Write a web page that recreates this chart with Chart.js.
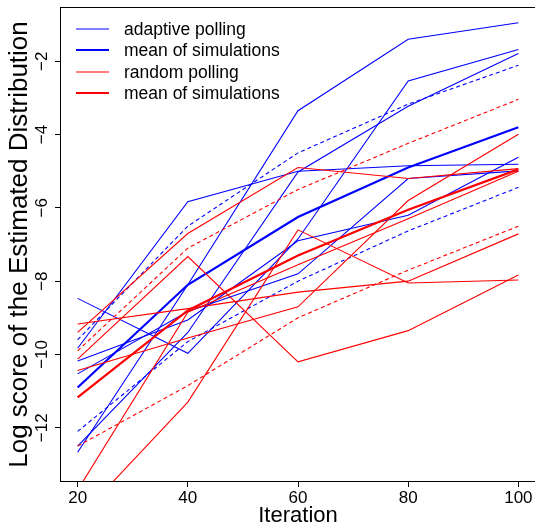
<!DOCTYPE html>
<html>
<head>
<meta charset="utf-8">
<script src="https://cdn.jsdelivr.net/npm/chart.js@4"></script>
<style>
html,body{margin:0;padding:0;background:#fff;overflow:hidden;}
#wrap{position:absolute;left:0;top:0;width:536px;height:525px;}
</style>
</head>
<body>
<div id="wrap"><canvas id="c"></canvas></div>
<script>
// ---- data ----
const iterations = [20, 40, 60, 80, 100];
const yTickValues = [-12, -10, -8, -6, -4, -2];

const adaptiveSim1 = [-9.83, -5.83, -5.0, -4.85, -4.81];
const adaptiveSim2 = [-8.47, -9.97, -6.85, -2.54, -1.68];
const adaptiveSim3 = [-12.67, -8.1, -3.35, -1.40, -0.95];
const adaptiveSim4 = [-12.5, -9.4, -5.02, -3.23, -1.79];
const adaptiveSim5 = [-10.53, -8.83, -7.8, -5.2, -4.99];
const adaptiveSim6 = [-10.18, -9.06, -6.9, -6.2, -4.62];
const adaptiveMean = [-10.9, -8.1, -6.25, -4.9, -3.8];
const adaptiveUpper = [-9.6, -6.5, -4.5, -3.17, -2.11];
const adaptiveLower = [-12.1, -9.65, -8.0, -6.63, -5.44];

const randomSim1 = [-9.4, -6.7, -4.9, -5.2, -4.93];
const randomSim2 = [-10.13, -7.33, -10.2, -9.35, -7.83];
const randomSim3 = [-14.5, -11.3, -6.6, -8.05, -7.97];
const randomSim4 = [-9.17, -8.75, -8.3, -8.0, -6.71];
const randomSim5 = [-10.44, -9.55, -8.7, -5.8, -3.99];
const randomSim6 = [-13.7, -8.85, -7.55, -6.3, -5.0];
const randomMean = [-11.17, -8.8, -7.3, -6.05, -4.95];
const randomUpper = [-9.9, -7.1, -5.5, -4.24, -3.04];
const randomLower = [-12.5, -10.85, -9.0, -7.7, -6.5];

const legendLabels = ['adaptive polling', 'mean of simulations', 'random polling', 'mean of simulations'];
const xTitle = 'Iteration';
const yTitle = 'Log score of the Estimated Distribution';

// ---- styling ----
const BLUE = '#0000ff', RED = '#ff0000';
const FONT = '"Liberation Sans", Arial, Helvetica, sans-serif';
const pts = arr => arr.map((v, i) => ({x: iterations[i], y: v}));
function ds(label, arr, color, kind, order) {
  return {
    label, data: pts(arr), borderColor: color, backgroundColor: color,
    borderWidth: kind === 'mean' ? 2.2 : 1.1,
    borderDash: kind === 'dash' ? [4, 3] : [],
    pointRadius: 0, fill: false, tension: 0, order
  };
}
const datasets = [
  ds('adaptive sim 1', adaptiveSim1, BLUE, 'thin', 3),
  ds('adaptive sim 2', adaptiveSim2, BLUE, 'thin', 3),
  ds('adaptive sim 3', adaptiveSim3, BLUE, 'thin', 3),
  ds('adaptive sim 4', adaptiveSim4, BLUE, 'thin', 3),
  ds('adaptive sim 5', adaptiveSim5, BLUE, 'thin', 3),
  ds('adaptive sim 6', adaptiveSim6, BLUE, 'thin', 3),
  ds('adaptive upper', adaptiveUpper, BLUE, 'dash', 3),
  ds('adaptive lower', adaptiveLower, BLUE, 'dash', 3),
  ds('adaptive mean', adaptiveMean, BLUE, 'mean', 2),
  ds('random sim 1', randomSim1, RED, 'thin', 1),
  ds('random sim 2', randomSim2, RED, 'thin', 1),
  ds('random sim 3', randomSim3, RED, 'thin', 1),
  ds('random sim 4', randomSim4, RED, 'thin', 1),
  ds('random sim 5', randomSim5, RED, 'thin', 1),
  ds('random sim 6', randomSim6, RED, 'thin', 1),
  ds('random upper', randomUpper, RED, 'dash', 1),
  ds('random lower', randomLower, RED, 'dash', 1),
  ds('random mean', randomMean, RED, 'mean', 0)
];

const decor = {
  id: 'decor',
  afterDraw(chart) {
    const ctx = chart.ctx, a = chart.chartArea;
    const ys = chart.scales.y;
    ctx.save();
    // frame
    ctx.strokeStyle = '#000'; ctx.lineWidth = 1;
    ctx.strokeRect(Math.round(a.left) + 0.5, Math.round(a.top) + 0.5,
                   Math.round(a.right - a.left) - 1, Math.round(a.bottom - a.top) - 1);
    // y tick labels (rotated, like R las=0)
    ctx.fillStyle = '#000';
    ctx.font = '17px ' + FONT;
    ctx.textAlign = 'center'; ctx.textBaseline = 'alphabetic';
    yTickValues.forEach(v => {
      const py = ys.getPixelForValue(v);
      ctx.save(); ctx.translate(47, py); ctx.rotate(-Math.PI / 2);
      ctx.fillText(String(v).replace('-', '\u2212'), 0, 0);
      ctx.restore();
    });
    // axis titles
    ctx.font = '22px ' + FONT;
    ctx.textBaseline = 'alphabetic';
    ctx.fillText(xTitle, (a.left + 476 / 2), 522);
    ctx.save();
    ctx.font = '26px ' + FONT;
    ctx.translate(27, (a.top + a.bottom) / 2); ctx.rotate(-Math.PI / 2);
    ctx.fillText(yTitle, 0, 0);
    ctx.restore();
    // legend
    const rows = [29, 50, 72, 93];
    const cols = [BLUE, BLUE, RED, RED];
    const widths = [1.1, 2.2, 1.1, 2.2];
    ctx.font = '17.5px ' + FONT;
    ctx.textAlign = 'left'; ctx.textBaseline = 'middle';
    legendLabels.forEach((t, i) => {
      ctx.strokeStyle = cols[i]; ctx.lineWidth = widths[i];
      ctx.beginPath(); ctx.moveTo(76, rows[i]); ctx.lineTo(109, rows[i]); ctx.stroke();
      ctx.fillStyle = '#000';
      ctx.fillText(t, 124, rows[i] + 1);
    });
    ctx.restore();
  }
};

new Chart(document.getElementById('c'), {
  type: 'line',
  data: {datasets},
  options: {
    responsive: true, maintainAspectRatio: false, animation: false,
    devicePixelRatio: 1,
    layout: {padding: {top: 7, left: 0, right: 0, bottom: 0}},
    plugins: {legend: {display: false}, tooltip: {enabled: false}},
    scales: {
      x: {
        type: 'linear', min: 16.8, max: 103.2,
        afterBuildTicks: s => { s.ticks = iterations.map(v => ({value: v})); },
        afterFit: s => { s.height = 43; },
        grid: {display: true, drawOnChartArea: false, drawTicks: true, tickLength: 5, color: '#000', lineWidth: 1},
        border: {display: false},
        ticks: {font: {family: FONT, size: 17}, color: '#000', padding: 1, maxRotation: 0, minRotation: 0, autoSkip: false}
      },
      y: {
        type: 'linear', min: -13.48, max: -0.52,
        afterBuildTicks: s => { s.ticks = yTickValues.map(v => ({value: v})); },
        afterFit: s => { s.width = 60; },
        grid: {display: true, drawOnChartArea: false, drawTicks: true, tickLength: 5, color: '#000', lineWidth: 1},
        border: {display: false},
        ticks: {display: false}
      }
    }
  },
  plugins: [decor]
});
</script>
</body>
</html>
